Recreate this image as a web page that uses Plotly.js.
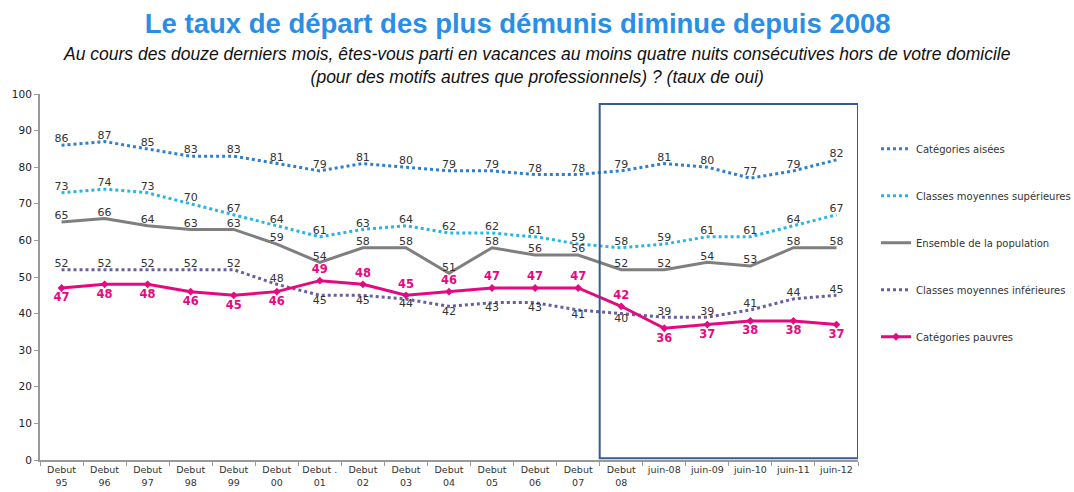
<!DOCTYPE html>
<html>
<head>
<meta charset="utf-8">
<script src="https://cdn.plot.ly/plotly-3.0.1.min.js"></script>
<style>html,body{margin:0;padding:0;background:#fff}#chart{width:1074px;height:492px}</style>
</head>
<body>
<div id="chart"></div>
<script>
const categories = ["Debut<br>95","Debut<br>96","Debut<br>97","Debut<br>98","Debut<br>99","Debut<br>00","Debut .<br>01","Debut<br>02","Debut<br>03","Debut<br>04","Debut<br>05","Debut<br>06","Debut<br>07","Debut<br>08","juin-08","juin-09","juin-10","juin-11","juin-12"];
const aisees      = [86,87,85,83,83,81,79,81,80,79,79,78,78,79,81,80,77,79,82];
const moySup      = [73,74,73,70,67,64,61,63,64,62,62,61,59,58,59,61,61,64,67];
const ensemble    = [65,66,64,63,63,59,54,58,58,51,58,56,56,52,52,54,53,58,58];
const moyInf      = [52,52,52,52,52,48,45,45,44,42,43,43,41,40,39,39,41,44,45];
const pauvres     = [47,48,48,46,45,46,49,48,45,46,47,47,47,42,36,37,38,38,37];
const seriesNames = ["Catégories aisées","Classes moyennes supérieures","Ensemble de la population","Classes moyennes inférieures","Catégories pauvres"];

const T = "top center", B = "bottom center";
const posInf = [T,T,T,T,T,T,B,B,B,B,B,B,B,B,T,T,T,T,T];
const posPauv = [B,B,B,B,B,B,T,T,T,T,T,T,T,T,B,B,B,B,B];

const labelFont = {family:"DejaVu Sans, Verdana, sans-serif", size:11, color:"#333"};

function mk(name, y, color, dash, width, pos, extra) {
  return Object.assign({
    type:"scatter", mode:"lines+text", x:categories, y:y, name:name,
    text:y.map(String), textposition:pos, textfont:labelFont,
    line:{color:color, width:width, dash:dash}, cliponaxis:false,
    legendgroup:name, hoverinfo:"x+y"
  }, extra||{});
}

const data = [
  mk(seriesNames[0], aisees, "#2f7fd0", "dot", 3, T),
  mk(seriesNames[1], moySup, "#27b4e6", "dot", 3, T),
  mk(seriesNames[2], ensemble, "#7f7f7f", "solid", 3, T),
  mk(seriesNames[3], moyInf, "#6a5f9e", "dot", 3, posInf),
  mk(seriesNames[4], pauvres, "#e5097f", "solid", 3, posPauv, {
    mode:"lines+markers+text",
    marker:{symbol:"diamond", size:6, color:"#e5097f"},
    textfont:{family:"DejaVu Sans, Verdana, sans-serif", size:11.5, color:"#e5097f", weight:"bold"}
  })
];

const layout = {
  width:1074, height:492,
  margin:{l:40, r:216, t:94, b:32, autoexpand:false},
  paper_bgcolor:"#fff", plot_bgcolor:"#fff",
  showlegend:true,
  legend:{x:1.022, y:0.89, xanchor:"left", yanchor:"top", tracegroupgap:28,
          font:{family:"DejaVu Sans, Verdana, sans-serif", size:10, color:"#333"}},
  xaxis:{type:"category", showgrid:false, showline:true, linecolor:"#999", linewidth:2,
         ticks:"outside", tickson:"boundaries", ticklen:4, tickcolor:"#999", tickangle:0,
         tickfont:{family:"DejaVu Sans, Verdana, sans-serif", size:9.5, color:"#333"},
         range:[-0.5,18.5], zeroline:false},
  yaxis:{range:[0,100], dtick:10, showgrid:false, showline:true, linecolor:"#999", linewidth:2,
         ticks:"outside", ticklen:4, tickcolor:"#999", zeroline:false,
         tickfont:{family:"DejaVu Sans, Verdana, sans-serif", size:10.5, color:"#222"}},
  title:{text:"<b>Le taux de départ des plus démunis diminue depuis 2008</b>",
         x:0.482, xanchor:"center", y:0.953, yanchor:"middle",
         font:{family:"Liberation Sans, Arial, sans-serif", size:27.5, color:"#2a8de6"}},
  annotations:[
    {xref:"paper", yref:"paper", x:(0.5*1074-40)/818, y:1, yanchor:"bottom", showarrow:false,
     xanchor:"center", text:"<i>Au cours des douze derniers mois, êtes-vous parti en vacances au moins quatre nuits consécutives hors de votre domicile</i><br><i>(pour des motifs autres que professionnels) ? (taux de oui)</i>",
     font:{family:"Liberation Sans, Arial, sans-serif", size:17.5, color:"#111"}, yshift:5}
  ],
  shapes:[
    {type:"rect", xref:"x", yref:"y", x0:12.5, x1:18.5, y0:0.5, y1:97.3,
     line:{color:"#3a5a92", width:2}, fillcolor:"rgba(0,0,0,0)"}
  ]
};
Plotly.newPlot("chart", data, layout, {displayModeBar:false, staticPlot:true});
</script>
</body>
</html>
